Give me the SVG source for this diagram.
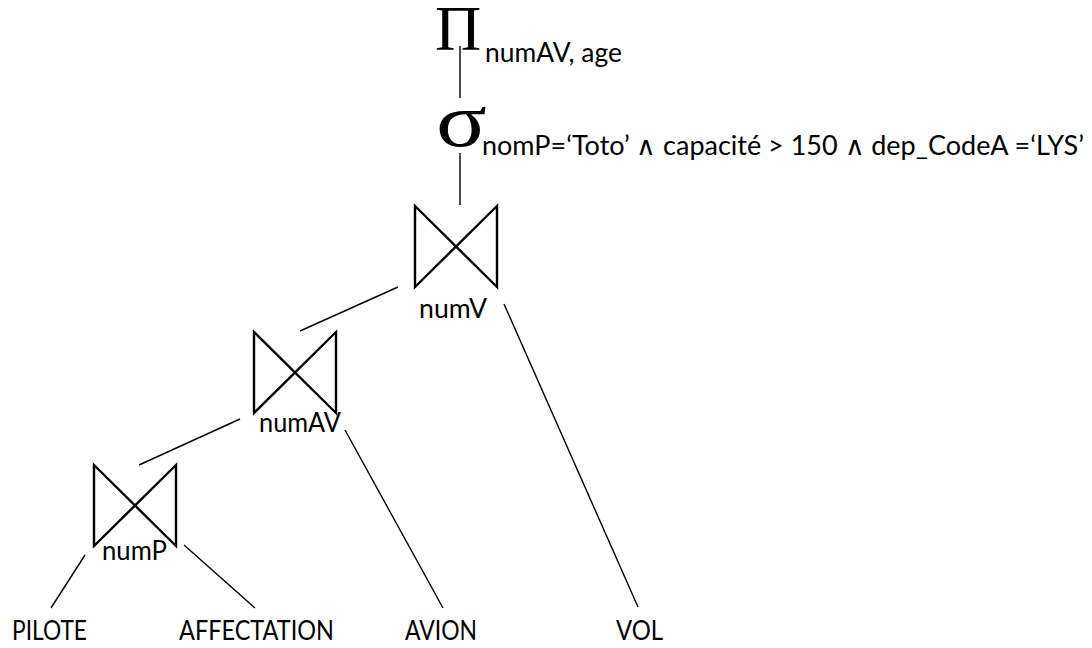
<svg xmlns="http://www.w3.org/2000/svg" width="1092" height="648" viewBox="0 0 1092 648">
  <style>
    .sym { font-family: "Liberation Serif", "Times New Roman", serif; fill: #000; }
    .lbl { font-family: Lato, "Liberation Sans", Arial, sans-serif; font-size: 26px; fill: #000; }
    .join { fill: none; stroke: #000; stroke-width: 2.4; stroke-linejoin: miter; }
    .edge { stroke: #000; stroke-width: 1.4; fill: none; }
  </style>
  <defs>
    <!-- bow-tie join symbol, 82 x 81, origin at top-left -->
    <path id="bowtie" class="join" d="M0,0 L0,81 L82,0 L82,81 Z"/>
  </defs>
  <rect width="1092" height="648" fill="#fff"/>

  <!-- connectors -->
  <g id="connectors">
    <line class="edge" x1="460" y1="46" x2="460" y2="98"/>
    <line class="edge" x1="460" y1="153" x2="460" y2="205"/>
    <line class="edge" x1="300" y1="331" x2="398" y2="287"/>
    <line class="edge" x1="504" y1="304" x2="638" y2="607"/>
    <line class="edge" x1="139" y1="465" x2="240" y2="419"/>
    <line class="edge" x1="345" y1="430" x2="443" y2="608"/>
    <line class="edge" x1="85" y1="555" x2="51" y2="608"/>
    <line class="edge" x1="184" y1="545" x2="255" y2="608"/>
  </g>

  <!-- projection -->
  <g id="projection">
    <text class="sym" x="435" y="50" font-size="64">Π</text>
    <text class="lbl" x="485" y="62" textLength="137" lengthAdjust="spacingAndGlyphs">numAV, age</text>
  </g>

  <!-- selection -->
  <g id="selection">
    <text class="sym" font-size="76" transform="translate(436,146) scale(1.24,1)">σ</text>
    <text class="lbl" x="482" y="155" textLength="602" lengthAdjust="spacingAndGlyphs">nomP=‘Toto’ ∧ capacité &gt; 150 ∧ dep_CodeA =‘LYS’</text>
  </g>

  <!-- joins -->
  <g id="join-numV">
    <use href="#bowtie" x="415" y="206"/>
    <text class="lbl" x="419" y="318" textLength="68" lengthAdjust="spacingAndGlyphs">numV</text>
  </g>
  <g id="join-numAV">
    <use href="#bowtie" x="254" y="332"/>
    <text class="lbl" x="259" y="432" textLength="82" lengthAdjust="spacingAndGlyphs">numAV</text>
  </g>
  <g id="join-numP">
    <use href="#bowtie" x="94" y="465"/>
    <text class="lbl" x="102" y="560" textLength="65" lengthAdjust="spacingAndGlyphs">numP</text>
  </g>

  <!-- relations -->
  <g id="rel-pilote"><text class="lbl" x="12" y="640" textLength="75" lengthAdjust="spacingAndGlyphs">PILOTE</text></g>
  <g id="rel-affectation"><text class="lbl" x="179" y="640" textLength="155" lengthAdjust="spacingAndGlyphs">AFFECTATION</text></g>
  <g id="rel-avion"><text class="lbl" x="405" y="640" textLength="72" lengthAdjust="spacingAndGlyphs">AVION</text></g>
  <g id="rel-vol"><text class="lbl" x="616" y="640" textLength="47" lengthAdjust="spacingAndGlyphs">VOL</text></g>
</svg>
